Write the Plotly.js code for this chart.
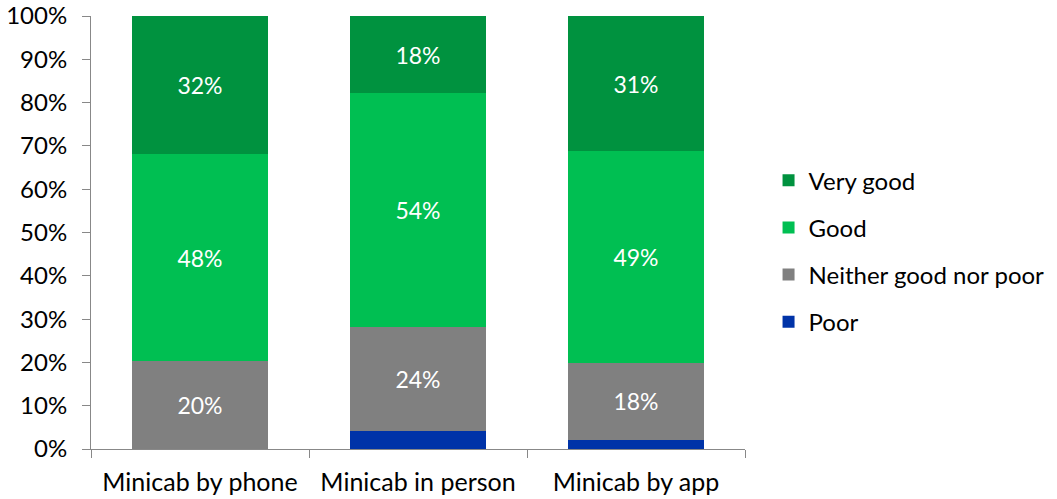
<!DOCTYPE html>
<html><head><meta charset="utf-8">
<script src="https://cdn.plot.ly/plotly-3.0.1.min.js"></script>
<style>html,body{margin:0;padding:0;background:#fff}#chart{width:1057px;height:499px}</style>
</head><body><div id="chart"></div>
<script>
const categories = ["Minicab by phone", "Minicab in person", "Minicab by app"];
const poor = [0, 4.2, 2.1];
const neither = [20.3, 24.0, 17.8];
const good = [47.8, 54.0, 48.9];
const veryGood = [31.9, 17.8, 31.2];
const seriesNames = ["Poor", "Neither good nor poor", "Good", "Very good"];
const seriesColors = ["#0033A8", "#808080", "#00BF52", "#00923F"];
const showLabels = [false, true, true, true];
const yTicks = [0,10,20,30,40,50,60,70,80,90,100];
const yTickText = yTicks.map(v => v + "%");

const values = [poor, neither, good, veryGood];
const font = "Lato, 'Open Sans', sans-serif";
const traces = values.map((vals, i) => ({
  type: "bar",
  name: seriesNames[i],
  x: categories,
  y: vals,
  marker: {color: seriesColors[i], line: {width: 0}},
  text: showLabels[i] ? vals.map(v => Math.round(v) + "%") : vals.map(() => ""),
  textposition: "inside",
  insidetextanchor: "middle",
  textangle: 0,
  textfont: {color: "#ffffff", size: 23, family: font},
  hoverinfo: "skip",
  legendgroup: "g" + i,
  legendrank: 1000 - i
}));

const layout = {
  width: 1057, height: 499,
  margin: {l: 91, r: 312, t: 16, b: 50, autoexpand: false},
  barmode: "stack",
  bargap: 0.376,
  paper_bgcolor: "#fff", plot_bgcolor: "#fff",
  font: {family: font, color: "#000", size: 24},
  showlegend: true,
  legend: {
    x: 1.036, y: 0.457, xanchor: "left", yanchor: "middle",
    traceorder: "grouped", tracegroupgap: 13,
    font: {size: 24, family: font, color: "#000"},
    itemwidth: 30
  },
  xaxis: {
    showline: true, linecolor: "#888", linewidth: 1,
    ticks: "outside", tickson: "boundaries", ticklen: 8, tickcolor: "#888",
    tickfont: {size: 25, family: font},
    ticklabelstandoff: 11,
    showgrid: false, zeroline: false, fixedrange: true
  },
  yaxis: {
    range: [0, 100], tickvals: yTicks, ticktext: yTickText,
    showline: true, linecolor: "#888", linewidth: 1,
    ticks: "outside", ticklen: 8, tickcolor: "#888",
    tickfont: {size: 24, family: font},
    ticklabelstandoff: 10,
    showgrid: false, zeroline: false, fixedrange: true
  }
};
Plotly.newPlot("chart", traces, layout, {staticPlot: true, displayModeBar: false});
</script></body></html>
